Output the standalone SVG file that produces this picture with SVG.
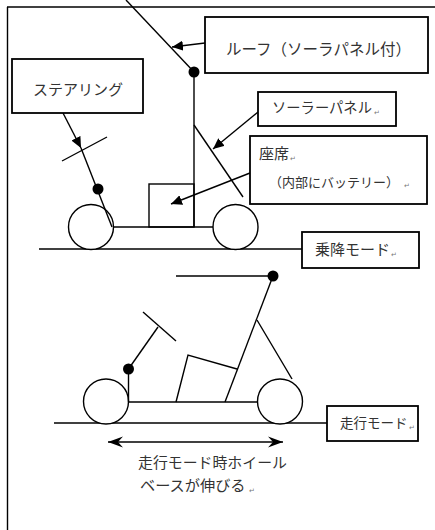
<svg xmlns="http://www.w3.org/2000/svg" width="435" height="530" viewBox="0 0 435 530">
  <style>
    .ln { stroke: #000; stroke-width: 1.4; fill: none; }
    .box { stroke: #000; stroke-width: 1.8; fill: #fff; }
    .wheel { stroke: #000; stroke-width: 1.4; fill: #fff; }
    .dot { fill: #000; }
    .lbl { font-family: "Noto Sans CJK JP", "Noto Sans", sans-serif; font-size: 15px; fill: #333; }
    .pm { font-family: "DejaVu Sans", sans-serif; font-size: 7px; fill: #777; }
  </style>
  <defs>
    <marker id="tri" markerUnits="userSpaceOnUse" markerWidth="12" markerHeight="10" refX="11" refY="5" orient="auto">
      <path d="M0,0 L11,5 L0,10 z" fill="#000"/>
    </marker>
    <marker id="barb" markerUnits="userSpaceOnUse" markerWidth="16" markerHeight="12" refX="15" refY="6" orient="auto-start-reverse">
      <path d="M0,0.5 L15,6 L0,11.5 L5,6 z" fill="#000"/>
    </marker>
  </defs>

  <!-- page frame (top and left edges) -->
  <g id="frame">
    <line class="ln" x1="7" y1="7" x2="435" y2="7"/>
    <line class="ln" x1="7.5" y1="7" x2="7.5" y2="530"/>
  </g>

  <!-- boarding mode vehicle -->
  <g id="boarding-vehicle">
    <line class="ln" x1="39" y1="249" x2="302" y2="249"/>
    <line class="ln" x1="113" y1="227" x2="213" y2="227"/>
    <circle class="wheel" cx="91" cy="227" r="22.5"/>
    <circle class="wheel" cx="235.5" cy="227" r="22.5"/>
    <rect class="ln" x="149" y="184" width="45" height="43"/>
    <line class="ln" x1="126" y1="0" x2="194" y2="72"/>
    <line class="ln" x1="194" y1="72" x2="194" y2="227"/>
    <line class="ln" x1="194" y1="125" x2="243" y2="197"/>
    <circle class="dot" cx="194" cy="72" r="5.5"/>
    <line class="ln" x1="81" y1="148" x2="112" y2="227"/>
    <line class="ln" x1="62" y1="161" x2="107" y2="137"/>
    <circle class="dot" cx="98" cy="189" r="5.5"/>
  </g>

  <!-- driving mode vehicle -->
  <g id="driving-vehicle">
    <line class="ln" x1="54" y1="423" x2="327" y2="423"/>
    <line class="ln" x1="129" y1="402" x2="257" y2="402"/>
    <circle class="wheel" cx="106" cy="401.5" r="22.5"/>
    <circle class="wheel" cx="280" cy="401.5" r="22.5"/>
    <line class="ln" x1="176" y1="276" x2="273" y2="276"/>
    <line class="ln" x1="273" y1="276" x2="225" y2="402"/>
    <line class="ln" x1="257" y1="320" x2="292" y2="379"/>
    <polyline class="ln" points="176,402 188,355 237,369"/>
    <line class="ln" x1="128.5" y1="369" x2="128.5" y2="402"/>
    <line class="ln" x1="128.5" y1="369" x2="158" y2="327"/>
    <line class="ln" x1="143" y1="312" x2="176" y2="341"/>
    <circle class="dot" cx="273" cy="276" r="5.5"/>
    <circle class="dot" cx="128.5" cy="369" r="5.5"/>
  </g>

  <!-- callout connectors -->
  <g id="connectors">
    <line class="ln" x1="205" y1="43" x2="172" y2="47" marker-end="url(#tri)"/>
    <line class="ln" x1="63" y1="113" x2="81" y2="148" marker-end="url(#tri)"/>
    <line class="ln" x1="258" y1="112" x2="213" y2="149" marker-end="url(#tri)"/>
    <line class="ln" x1="250" y1="173" x2="171" y2="204" marker-end="url(#tri)"/>
    <line class="ln" x1="108" y1="442" x2="283" y2="442" marker-start="url(#barb)" marker-end="url(#barb)"/>
  </g>

  <g id="roof-label">
    <rect class="box" x="205" y="17" width="223" height="56"/>
    <text class="lbl" x="226" y="55" style="font-size:15.5px">ルーフ（ソーラパネル付）</text>
  </g>

  <g id="steering-label">
    <rect class="box" x="12" y="59" width="131" height="54"/>
    <text class="lbl" x="33" y="94.5">ステアリング</text>
  </g>

  <g id="solar-label">
    <rect class="box" x="258" y="92" width="138" height="34"/>
    <text class="lbl" x="272" y="113" style="font-size:14.3px">ソーラーパネル</text>
    <text class="pm" x="374" y="115">↵</text>
  </g>

  <g id="seat-label">
    <rect class="box" x="250" y="136" width="177" height="68"/>
    <text class="lbl" x="259" y="159">座席</text>
    <text class="pm" x="290" y="161">↵</text>
    <text class="lbl" x="269" y="187" style="font-size:13px">（内部にバッテリー）</text>
    <text class="pm" x="404" y="188">↵</text>
  </g>

  <g id="boarding-label">
    <rect class="box" x="302" y="232" width="117" height="36"/>
    <text class="lbl" x="315" y="255">乗降モード</text>
    <text class="pm" x="391" y="257">↵</text>
  </g>

  <g id="driving-label">
    <rect class="box" x="327" y="406" width="91" height="35"/>
    <text class="lbl" x="340" y="428" style="font-size:13.5px">走行モード</text>
    <text class="pm" x="409" y="430">↵</text>
  </g>

  <g id="wheelbase-note">
    <text class="lbl" x="138" y="468" style="font-size:14.9px">走行モード時ホイール</text>
    <text class="lbl" x="140" y="491" style="font-size:15.2px">ベースが伸びる</text>
    <text class="pm" x="249" y="493">↵</text>
  </g>
</svg>
